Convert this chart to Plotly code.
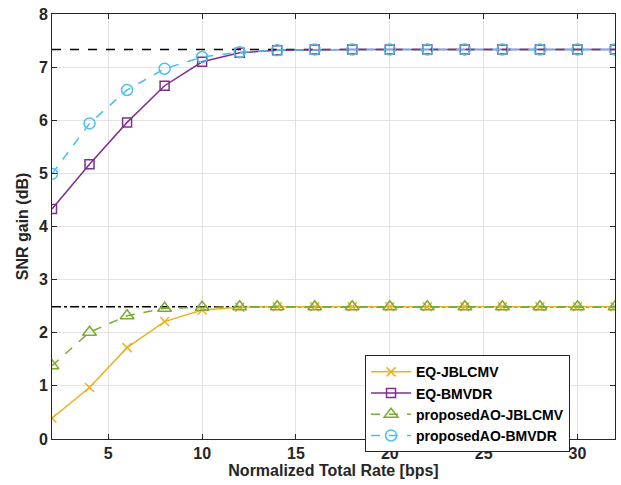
import plotly.graph_objects as go

rate = [2, 4, 6, 8, 10, 12, 14, 16, 18, 20, 22, 24, 26, 28, 30, 32]
eq_jblcmv = [0.39, 0.97, 1.72, 2.21, 2.43, 2.48, 2.49, 2.49, 2.49, 2.49, 2.49, 2.49, 2.49, 2.49, 2.49, 2.49]
eq_bmvdr = [4.33, 5.17, 5.96, 6.65, 7.10, 7.27, 7.32, 7.33, 7.33, 7.33, 7.33, 7.33, 7.33, 7.33, 7.33, 7.33]
ao_jblcmv = [1.38, 2.01, 2.32, 2.46, 2.48, 2.49, 2.49, 2.49, 2.49, 2.49, 2.49, 2.49, 2.49, 2.49, 2.49, 2.49]
ao_bmvdr = [4.99, 5.94, 6.57, 6.97, 7.19, 7.28, 7.32, 7.33, 7.33, 7.33, 7.33, 7.33, 7.33, 7.33, 7.33, 7.33]
bound_bmvdr = 7.33
bound_jblcmv = 2.49
x_range = [2, 32]

FONT = "Liberation Sans, Arial, sans-serif"

fig = go.Figure()

fig.add_trace(go.Scatter(x=x_range, y=[bound_bmvdr, bound_bmvdr], mode="lines",
                         line=dict(color="black", width=1.5, dash="dash"), showlegend=False, hoverinfo="skip"))
fig.add_trace(go.Scatter(x=x_range, y=[bound_jblcmv, bound_jblcmv], mode="lines",
                         line=dict(color="black", width=1.5, dash="dashdot"), showlegend=False, hoverinfo="skip"))

fig.add_trace(go.Scatter(x=rate, y=eq_jblcmv, name="EQ-JBLCMV", mode="lines+markers",
                         line=dict(color="#EDB120", width=1.5),
                         marker=dict(symbol="x-thin-open", size=9, color="#EDB120",
                                     line=dict(color="#EDB120", width=1.5))))
fig.add_trace(go.Scatter(x=rate, y=eq_bmvdr, name="EQ-BMVDR", mode="lines+markers",
                         line=dict(color="#7E2F8E", width=1.5),
                         marker=dict(symbol="square-open", size=9, color="#7E2F8E",
                                     line=dict(color="#7E2F8E", width=1.5))))
fig.add_trace(go.Scatter(x=rate, y=ao_jblcmv, name="proposedAO-JBLCMV", mode="lines+markers",
                         line=dict(color="#77AC30", width=1.5, dash="dash"),
                         marker=dict(symbol="triangle-up-open", size=12, color="#77AC30",
                                     line=dict(color="#77AC30", width=1.5))))
fig.add_trace(go.Scatter(x=rate, y=ao_bmvdr, name="proposedAO-BMVDR", mode="lines+markers",
                         line=dict(color="#4DBEEE", width=1.5, dash="dash"),
                         marker=dict(symbol="circle-open", size=11, color="#4DBEEE",
                                     line=dict(color="#4DBEEE", width=1.5))))

axis_common = dict(showgrid=True, gridcolor="#E3E3E3", gridwidth=1, zeroline=False,
                   showline=True, linecolor="#262626", linewidth=1, mirror="ticks",
                   ticks="inside", ticklen=5, tickcolor="#262626",
                   tickfont=dict(family=FONT, size=16, color="#262626", weight="bold"))

fig.update_xaxes(range=x_range, tickvals=[5, 10, 15, 20, 25, 30],
                 title=dict(text="Normalized Total Rate [bps]", standoff=2,
                            font=dict(family=FONT, size=16, color="#262626", weight="bold")),
                 **axis_common)
fig.update_yaxes(range=[0, 8], tickvals=[0, 1, 2, 3, 4, 5, 6, 7, 8],
                 title=dict(text="SNR gain (dB)", standoff=6,
                            font=dict(family=FONT, size=16, color="#262626", weight="bold")),
                 **axis_common)

fig.update_layout(
    width=621, height=485,
    margin=dict(l=52, r=6, t=14, b=46),
    plot_bgcolor="white", paper_bgcolor="white",
    font=dict(family=FONT, size=14, color="#262626"),
    legend=dict(x=0.556, y=0.197, xanchor="left", yanchor="top",
                bgcolor="white", bordercolor="#262626", borderwidth=1,
                font=dict(family=FONT, size=14, color="black", weight="bold"),
                itemwidth=40, tracegroupgap=0),
)

fig.write_html("out.html", config={"displayModeBar": False},
               post_script="document.body.style.margin='0';")
